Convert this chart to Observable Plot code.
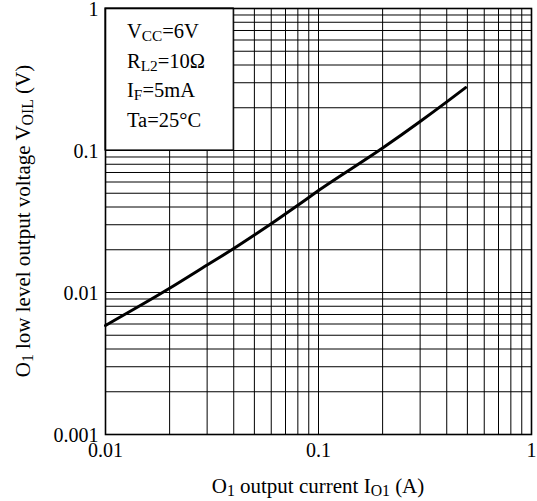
<!DOCTYPE html>
<html><head><meta charset="utf-8">
<script src="https://cdn.jsdelivr.net/npm/d3@7"></script>
<script src="https://cdn.jsdelivr.net/npm/@observablehq/plot@0.6"></script>
<style>body{margin:0;background:#fff} svg{display:block}</style>
</head><body><div id="chart"></div>
<script>
// curve: O1 output current (A) vs O1 low level output voltage (V)
const currentA = [0.01, 0.02, 0.03, 0.04, 0.05, 0.06, 0.08, 0.1, 0.2, 0.3, 0.4, 0.49];
const voltageV = [0.00586, 0.0107, 0.0156, 0.0204, 0.0254, 0.0305, 0.0412, 0.0522, 0.104, 0.16, 0.22, 0.277];

const xTicks = [0.01, 0.1, 1];
const xTickLabels = ["0.01", "0.1", "1"];
const yTicks = [0.001, 0.01, 0.1, 1];
const yTickLabels = ["0.001", "0.01", "0.1", "1"];

const xGrid = [0.02, 0.03, 0.04, 0.05, 0.06, 0.07, 0.08, 0.09, 0.1, 0.2, 0.3, 0.4, 0.5, 0.6, 0.7, 0.8, 0.9];
const yGrid = [0.002, 0.003, 0.004, 0.005, 0.006, 0.007, 0.008, 0.009, 0.01,
               0.02, 0.03, 0.04, 0.05, 0.06, 0.07, 0.08, 0.09, 0.1,
               0.2, 0.3, 0.4, 0.5, 0.6, 0.7, 0.8, 0.9];

// condition box extent (data coords)
const boxX = [0.01, 0.04];
const boxY = [0.1, 1];
// condition text: [main, subscript, rest]
const conditions = [
  ["V", "CC", "=6V"],
  ["R", "L2", "=10\u03A9"],
  ["I", "F", "=5mA"],
  ["Ta=25\u00B0C", "", ""]
];
const xTitle = ["O", "1", " output current I", "O1", " (A)"];
const yTitle = ["O", "1", " low level output voltage V", "OIL", " (V)"];

const data = currentA.map((x, i) => ({x, y: voltageV[i]}));
const FONT = "Liberation Serif, Times New Roman, serif";
const FS_TICK = 20;
const FS_TITLE = 21;
const FS_COND = 20.5;

const chart = Plot.plot({
  width: 537, height: 501,
  marginLeft: 105, marginRight: 6, marginTop: 8, marginBottom: 67,
  style: {fontFamily: FONT, fontSize: FS_TICK + "px", color: "#000", background: "#fff"},
  x: {type: "log", domain: [0.01, 1], axis: null},
  y: {type: "log", domain: [0.001, 1], axis: null},
  marks: [
    Plot.ruleX(xGrid, {stroke: "#000", strokeWidth: 1}),
    Plot.ruleY(yGrid, {stroke: "#000", strokeWidth: 1}),
    Plot.rect([{}], {x1: boxX[0], x2: boxX[1], y1: boxY[0], y2: boxY[1], fill: "#fff", stroke: "#000", strokeWidth: 1.2}),
    Plot.frame({stroke: "#000", strokeWidth: 1.6}),
    Plot.line(data, {x: "x", y: "y", stroke: "#000", strokeWidth: 3, curve: "monotone-x"}),
    Plot.text(xTicks, {x: d => d, frameAnchor: "bottom", lineAnchor: "top", dy: 8,
      text: (d, i) => xTickLabels[i], fill: "#000", fontSize: FS_TICK}),
    Plot.text(yTicks, {y: d => d, frameAnchor: "left", textAnchor: "end", dx: -7, dy: 1.5,
      text: (d, i) => yTickLabels[i], fill: "#000", fontSize: FS_TICK})
  ]
});
document.getElementById("chart").append(chart);

const sx = chart.scale("x"), sy = chart.scale("y");
const svg = d3.select(chart);
const g = svg.append("g").attr("font-family", FONT).attr("fill", "#000").attr("text-anchor", "start");

function richText(sel, parts, fs) {
  sel.attr("font-size", fs);
  parts.forEach((p, i) => {
    if (!p) return;
    const t = sel.append("tspan").text(p);
    if (i % 2 === 1) t.attr("font-size", fs * 0.75).attr("dy", 3);
    else if (i > 0) t.attr("dy", -3);
  });
}

const bx = sx.apply(boxX[0]) + 22;
const by0 = sy.apply(boxY[1]);
conditions.forEach((c, i) => {
  const t = g.append("text").attr("x", bx).attr("y", by0 + 30 + i * 29.5);
  richText(t, c, FS_COND);
});

const cx = (sx.apply(0.01) + sx.apply(1)) / 2;
const cy = (sy.apply(0.001) + sy.apply(1)) / 2;
richText(g.append("text").attr("x", cx).attr("y", 493).attr("text-anchor", "middle"), xTitle, FS_TITLE);
richText(g.append("text").attr("transform", `translate(30,${cy}) rotate(-90)`).attr("text-anchor", "middle"), yTitle, FS_TITLE);
</script>
</body></html>
